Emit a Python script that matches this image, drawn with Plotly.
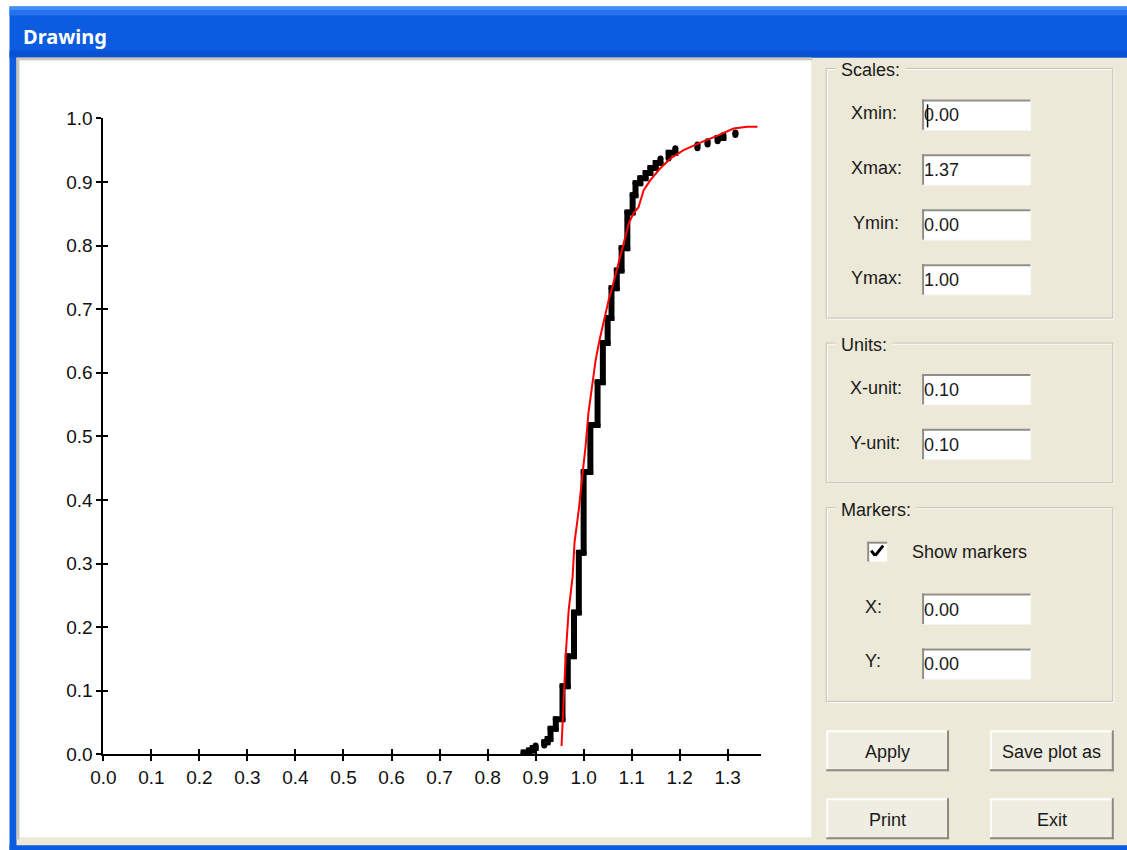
import plotly.graph_objects as go

# ---------------- data ----------------
# empirical CDF: x position of each jump and the level reached after it
ecdf_x = [0.875, 0.886, 0.894, 0.900, 0.918, 0.925, 0.931, 0.942, 0.956, 0.967,
          0.980, 0.990, 1.000, 1.014, 1.029, 1.040, 1.050, 1.058, 1.069, 1.079,
          1.091, 1.102, 1.108, 1.118, 1.129, 1.139, 1.150, 1.160, 1.177, 1.191,
          1.237, 1.258, 1.279, 1.291, 1.316]
ecdf_y = [0.003, 0.006, 0.010, 0.014, 0.019, 0.024, 0.040, 0.055, 0.107, 0.154,
          0.223, 0.317, 0.444, 0.518, 0.585, 0.647, 0.686, 0.733, 0.761, 0.796,
          0.852, 0.879, 0.898, 0.906, 0.914, 0.922, 0.930, 0.937, 0.946, 0.953,
          0.959, 0.964, 0.969, 0.974, 0.978]

# fitted CDF (red curve)
fit_x = [0.954, 0.963, 0.969, 0.977, 0.981, 0.990, 0.998, 1.004, 1.010, 1.019,
         1.025, 1.033, 1.042, 1.052, 1.062, 1.081, 1.094, 1.104, 1.114, 1.125,
         1.139, 1.160, 1.181, 1.208, 1.243, 1.279, 1.312, 1.341, 1.362]
fit_y = [0.013, 0.160, 0.228, 0.279, 0.333, 0.385, 0.443, 0.484, 0.537, 0.589,
         0.620, 0.651, 0.683, 0.714, 0.741, 0.797, 0.835, 0.851, 0.860, 0.887,
         0.903, 0.922, 0.937, 0.950, 0.962, 0.973, 0.984, 0.987, 0.987]

x_ticks = [i / 10 for i in range(14)]
x_tick_labels = ["%.1f" % v for v in x_ticks]
y_ticks = [i / 10 for i in range(11)]
y_tick_labels = ["%.1f" % v for v in y_ticks]

x_range = [0.0, 1.37]
y_range = [0.0, 1.0]

# dialog panel contents
field_labels = ["Xmin:", "Xmax:", "Ymin:", "Ymax:", "X-unit:", "Y-unit:", "X:", "Y:"]
field_values = ["0.00", "1.37", "0.00", "1.00", "0.10", "0.10", "0.00", "0.00"]
group_titles = ["Scales:", "Units:", "Markers:"]
button_labels = ["Apply", "Save plot as", "Print", "Exit"]
window_title = "Drawing"
checkbox_label = "Show markers"

# ---------------- layout helpers ----------------
W, H = 1127, 850
# mapping of target screen position -> figure pixel
SX, OX = 0.99, 11.5
SY, OY = 0.977, 9.4
FONT = "Liberation Sans, Arial, sans-serif"
BEIGE = "#ECE9D8"
BLUE = "#0B5CE0"


def fx(p):
    return ((p - OX) / SX) / W


def fy(p):
    return 1 - ((p - OY) / SY) / H


shapes = []


def rect(x0, y0, x1, y1, fill, lc=None, lw=0):
    shapes.append(dict(type="rect", xref="paper", yref="paper",
                       x0=fx(x0), x1=fx(x1), y0=fy(y1), y1=fy(y0),
                       fillcolor=fill, line=dict(width=lw, color=lc or fill),
                       layer="below"))


def line(x0, y0, x1, y1, color, w):
    shapes.append(dict(type="line", xref="paper", yref="paper",
                       x0=fx(x0), x1=fx(x1), y0=fy(y0), y1=fy(y1),
                       line=dict(width=w, color=color), layer="below"))


annotations = []


def text(s, x, y, size=18, color="#1a1a1a", anchor="left", bold=False, bg=None, family=FONT):
    a = dict(text=("<b>%s</b>" % s) if bold else s, xref="paper", yref="paper",
             x=fx(x), y=fy(y), xanchor=anchor, yanchor="middle", showarrow=False,
             font=dict(family=family, size=size, color=color))
    if bg:
        a["bgcolor"] = bg
        a["borderpad"] = 0
    annotations.append(a)


# ---------------- window chrome ----------------
rect(15, 56, 1140, 847, BEIGE)               # client area
rect(8, 6, 1140, 57, BLUE)                   # title bar
rect(8, 6, 1140, 10, "#3F8EF9")
rect(8, 10, 1140, 15, "#2672EE")
rect(8, 50, 1140, 57, "#0950D2")
rect(8, 56, 15, 870, BLUE)                   # left border
rect(8, 846, 1140, 870, BLUE)                # bottom border
rect(15, 58, 18, 840, "#C9C7BA")             # sunken edge of drawing area
rect(15, 57, 812, 60, "#C9C7BA")
rect(18, 60, 811, 838, "#FFFFFF")            # drawing area
text(window_title, 20, 36, size=20, color="#FFFFFF", bold=True,
     family="Noto Sans, DejaVu Sans, sans-serif")

# group boxes
groups = [(68, 318), (343, 483), (508, 702)]
for (top, bot), title in zip(groups, group_titles):
    rect(827, top + 1, 1114, bot + 1, "rgba(0,0,0,0)", "#FFFFFF", 1)
    rect(826, top, 1113, bot, "rgba(0,0,0,0)", "#C5C2B2", 1)
    text(" " + title + " ", 835, top + 2, bg=BEIGE)

# text fields
label_pos = [(849, 113), (849, 168), (851, 223), (849, 278),
             (848, 388), (848, 443), (863, 607), (863, 662)]
field_tops = [99, 154, 209, 264, 374, 429, 594, 649]
for lab, (lx, ly), val, ft in zip(field_labels, label_pos, field_values, field_tops):
    text(lab, lx, ly)
    rect(922, ft, 1031, ft + 31, "#FFFFFF")
    line(922, ft + 1, 1031, ft + 1, "#8F8E86", 2)
    line(923, ft, 923, ft + 31, "#8F8E86", 2)
    line(922, ft + 31, 1031, ft + 31, "#F4F3EE", 1)
    line(1031, ft, 1031, ft + 31, "#F4F3EE", 1)
    text(val, 922, ft + 16)
line(927.5, 104, 927.5, 127, "#000000", 1.5)    # caret in Xmin

# checkbox
rect(867, 542, 887, 562, "#FFFFFF")
line(867, 543, 887, 543, "#8F8E86", 2)
line(868, 542, 868, 562, "#8F8E86", 2)
line(871, 551, 875, 556, "#000000", 3)
line(875, 556, 883, 546, "#000000", 3)
text(checkbox_label, 910, 552)

# buttons
btn_boxes = [(826, 731, 949, 772), (990, 731, 1114, 772),
             (826, 799, 949, 840), (990, 799, 1114, 840)]
for lab, (x0, y0, x1, y1) in zip(button_labels, btn_boxes):
    rect(x0, y0, x1, y1, "#EFECE1")
    line(x0, y0 + 1, x1, y0 + 1, "#FFFFFF", 2)
    line(x0 + 1, y0, x0 + 1, y1, "#FFFFFF", 2)
    line(x0, y1 - 1, x1, y1 - 1, "#8A8A80", 2)
    line(x1 - 1, y0, x1 - 1, y1, "#8A8A80", 2)
    text(lab, (x0 + x1) / 2, (y0 + y1) / 2 + 1, anchor="center")

# ---------------- chart ----------------
# staircase of the empirical CDF; pieces separated where the data has gaps
GAP = 0.0155
seg_x, seg_y = [], []
prev_x, prev_y = None, 0.0
for xv, yv in zip(ecdf_x, ecdf_y):
    if prev_x is not None and xv - prev_x > GAP:
        seg_x.append(None)
        seg_y.append(None)
    seg_x += [xv, xv]
    seg_y += [prev_y, yv]
    prev_x, prev_y = xv, yv

fig = go.Figure()
fig.add_trace(go.Scatter(x=seg_x, y=seg_y, mode="lines+markers",
                         line=dict(color="#000000", width=6),
                         marker=dict(color="#000000", size=6),
                         hoverinfo="skip", showlegend=False))
fig.add_trace(go.Scatter(x=fit_x, y=fit_y, mode="lines",
                         line=dict(color="#FF0000", width=2),
                         hoverinfo="skip", showlegend=False))
# carrier trace for the inner-tick overlay axes
fig.add_trace(go.Scatter(x=[x_range[0]], y=[y_range[0]], xaxis="x2", yaxis="y2",
                         mode="markers", marker=dict(opacity=0), hoverinfo="skip",
                         showlegend=False))

xdom = [fx(102), fx(761)]
ydom = [fy(755), fy(118)]
tickfont = dict(family=FONT, size=19, color="#111111")

fig.update_layout(
    width=W, height=H, autosize=False,
    margin=dict(l=0, r=0, t=0, b=0),
    paper_bgcolor="#FFFFFF", plot_bgcolor="rgba(0,0,0,0)",
    showlegend=False,
    xaxis=dict(range=x_range, domain=xdom, tickvals=x_ticks, ticktext=x_tick_labels,
               ticks="outside", ticklen=5, tickwidth=2, tickcolor="#000000",
               showline=True, linecolor="#000000", linewidth=2,
               showgrid=False, zeroline=False, tickfont=tickfont, fixedrange=True,
               anchor="y"),
    yaxis=dict(range=y_range, domain=ydom, tickvals=y_ticks, ticktext=y_tick_labels,
               ticks="outside", ticklen=5, tickwidth=2, tickcolor="#000000",
               showline=True, linecolor="#000000", linewidth=2,
               showgrid=False, zeroline=False, tickfont=tickfont, fixedrange=True,
               anchor="x"),
    xaxis2=dict(range=x_range, domain=xdom, overlaying="x", anchor="y2", side="bottom",
                tickvals=x_ticks, ticks="inside", ticklen=5, tickwidth=2,
                tickcolor="#000000", showticklabels=False, showline=False,
                showgrid=False, zeroline=False, fixedrange=True),
    yaxis2=dict(range=y_range, domain=ydom, overlaying="y", anchor="x2", side="left",
                tickvals=y_ticks, ticks="inside", ticklen=5, tickwidth=2,
                tickcolor="#000000", showticklabels=False, showline=False,
                showgrid=False, zeroline=False, fixedrange=True),
    shapes=shapes,
    annotations=annotations,
)

fig.write_html("out.html", config={"displayModeBar": False},
               post_script="document.body.style.margin='0';")
